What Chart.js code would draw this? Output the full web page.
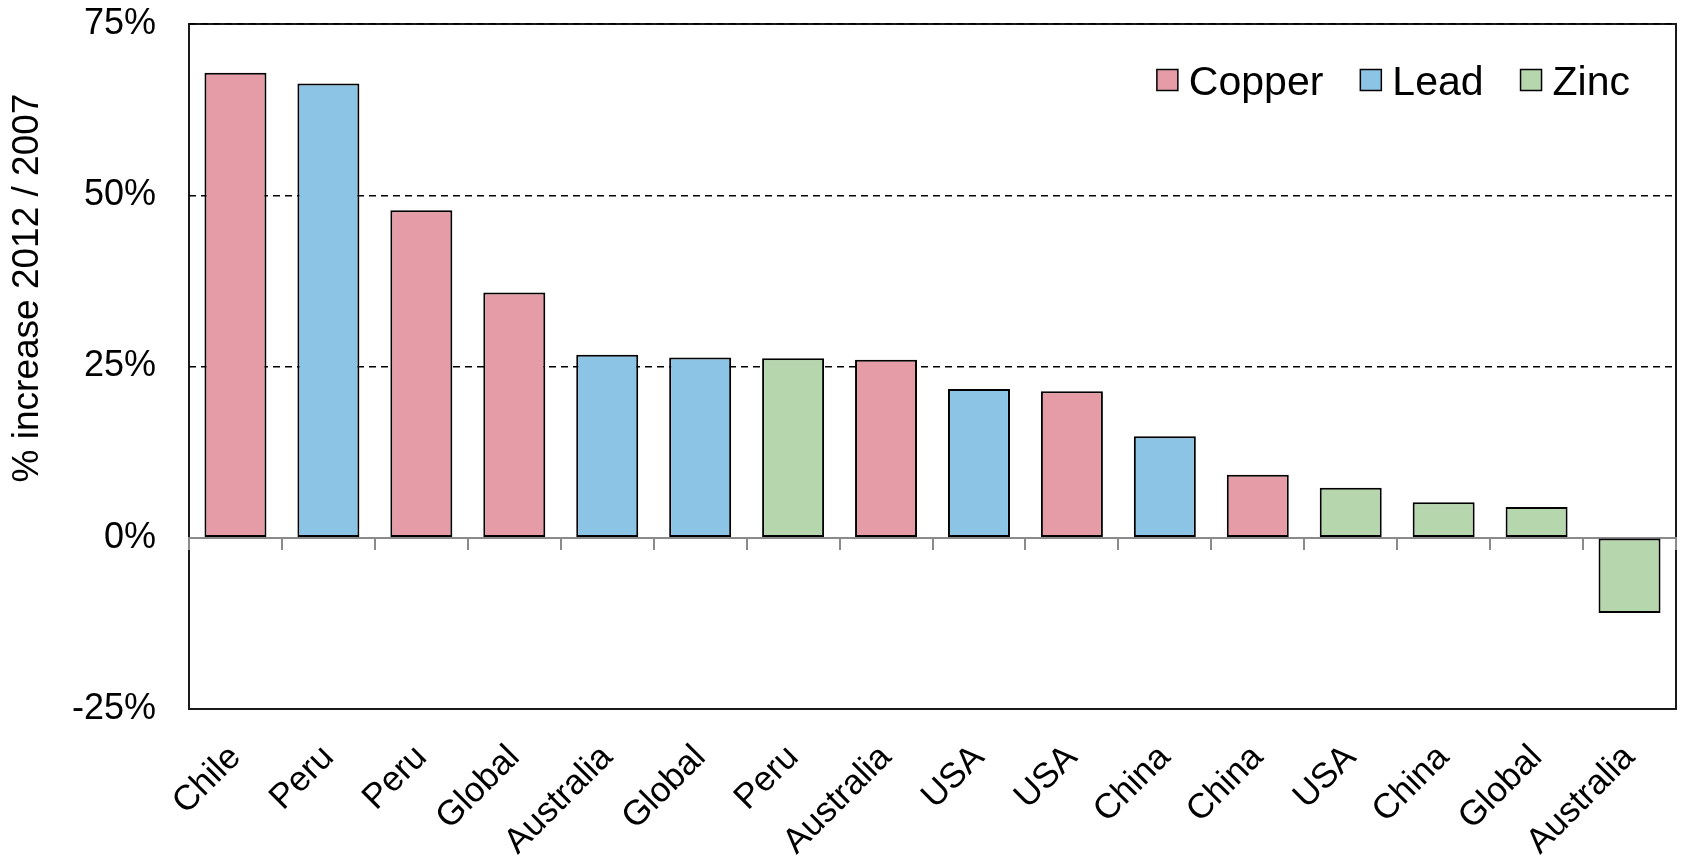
<!DOCTYPE html>
<html>
<head>
<meta charset="utf-8">
<script src="https://cdn.jsdelivr.net/npm/chart.js@4/dist/chart.umd.min.js"></script>
<style>
html,body{margin:0;padding:0;background:#fff;overflow:hidden}
#wrap{width:1681px;height:859px;position:relative}
</style>
</head>
<body>
<div id="wrap"><canvas id="c"></canvas></div>
<script>
// ---- data ----
const categories = ['Chile','Peru','Peru','Global','Australia','Global','Peru','Australia','USA','USA','China','China','USA','China','Global','Australia'];
const copper = [67.9, null, 47.8, 35.8, null, null, null, 26.0, null, 21.4, null, 9.2, null, null, null, null];
const lead   = [null, 66.3, null, null, 26.7, 26.3, null, null, 21.7, null, 14.8, null, null, null, null, null];
const zinc   = [null, null, null, null, null, null, 26.2, null, null, null, null, null, 7.3, 5.2, 4.5, -11.0];
const seriesNames = ['Copper', 'Lead', 'Zinc'];
const yTicks = [-25, 0, 25, 50, 75];
const yTitle = '% increase 2012 / 2007';

// ---- styles ----
const FONT = '"Liberation Sans", Arial, sans-serif';
const colors = ['#E59CA6', '#8CC4E6', '#B6D7AE'];
Chart.defaults.font.family = FONT;
Chart.defaults.color = '#000';

const framePlugin = {
  id: 'frame',
  beforeDraw(chart) {
    const {ctx, chartArea: a} = chart;
    ctx.save();
    ctx.strokeStyle = '#1a1a1a';
    ctx.lineWidth = 2;
    ctx.strokeRect(a.left, a.top, a.right - a.left, a.bottom - a.top);
    ctx.restore();
  }
};

const titlePlugin = {
  id: 'ytitle',
  afterDraw(chart) {
    const {ctx, chartArea: a} = chart;
    ctx.save();
    ctx.translate(28, a.top + 264);
    ctx.rotate(-Math.PI / 2);
    ctx.font = '37px ' + FONT;
    ctx.fillStyle = '#000';
    ctx.textAlign = 'center';
    ctx.textBaseline = 'middle';
    ctx.fillText(yTitle, 0, 0);
    ctx.restore();
  }
};

const legendPlugin = {
  id: 'insideLegend',
  afterDraw(chart) {
    const {ctx, chartArea: a} = chart;
    const box = 21, gapText = 11, gapItem = 37;
    ctx.save();
    ctx.font = '41px ' + FONT;
    const ds = chart.data.datasets;
    const widths = ds.map(d => ctx.measureText(d.label).width);
    let total = 0;
    widths.forEach((w, i) => { total += box + gapText + w + (i < widths.length - 1 ? gapItem : 0); });
    let x = a.right - 46 - total;
    const base = a.top + 71;
    const cy = a.top + 56;
    ds.forEach((d, i) => {
      ctx.fillStyle = d.backgroundColor;
      ctx.fillRect(x, cy - box / 2, box, box);
      ctx.strokeStyle = '#000';
      ctx.lineWidth = 1.5;
      ctx.strokeRect(x, cy - box / 2, box, box);
      ctx.fillStyle = '#000';
      ctx.textAlign = 'left';
      ctx.textBaseline = 'alphabetic';
      ctx.fillText(d.label, x + box + gapText, base);
      x += box + gapText + widths[i] + gapItem;
    });
    ctx.restore();
  }
};

const seriesData = [copper, lead, zinc];
const datasets = seriesNames.map((name, i) => ({
  label: name,
  data: seriesData[i],
  backgroundColor: colors[i],
  borderColor: '#000',
  borderWidth: 2,
  borderSkipped: false,
  xAxisID: 'x',
  categoryPercentage: 1.0,
  barPercentage: 0.667
}));

new Chart(document.getElementById('c'), {
  type: 'bar',
  data: { labels: categories, datasets },
  options: {
    responsive: true,
    maintainAspectRatio: false,
    animation: false,
    devicePixelRatio: 1,
    layout: { padding: { top: 24, right: 5, bottom: 0, left: 0 } },
    plugins: {
      legend: { display: false },
      tooltip: { enabled: false }
    },
    scales: {
      x: {
        type: 'category',
        position: 'bottom',
        stacked: true,
        offset: true,
        grid: { display: false },
        border: { display: false },
        ticks: {
          autoSkip: false,
          maxRotation: 45,
          minRotation: 45,
          padding: 20,
          color: '#000',
          font: { size: 35, family: FONT }
        },
        afterFit(s) { s.height = 150; s.paddingLeft = 0; s.paddingRight = 0; }
      },
      x2: {
        type: 'category',
        axis: 'x',
        position: { y: 0 },
        offset: true,
        grid: {
          display: true,
          offset: true,
          drawOnChartArea: false,
          drawTicks: true,
          tickLength: 11,
          color: '#8a8a8a',
          lineWidth: 2
        },
        border: { display: true, color: '#8a8a8a', width: 2 },
        ticks: { display: false }
      },
      y: {
        type: 'linear',
        min: -25,
        max: 75,
        afterBuildTicks(s) { s.ticks = yTicks.map(v => ({ value: v })); },
        grid: {
          drawTicks: false,
          lineWidth: 1.5,
          color: c => (c.tick && c.tick.value > 0) ? '#000' : 'rgba(0,0,0,0)'
        },
        border: { display: false, dash: [7, 5] },
        ticks: {
          padding: 33,
          color: '#000',
          font: { size: 36, family: FONT },
          callback: v => v + '%'
        },
        afterFit(s) { s.width = 189; s.paddingTop = 0; s.paddingBottom = 0; }
      }
    }
  },
  plugins: [framePlugin, titlePlugin, legendPlugin]
});
</script>
</body>
</html>
